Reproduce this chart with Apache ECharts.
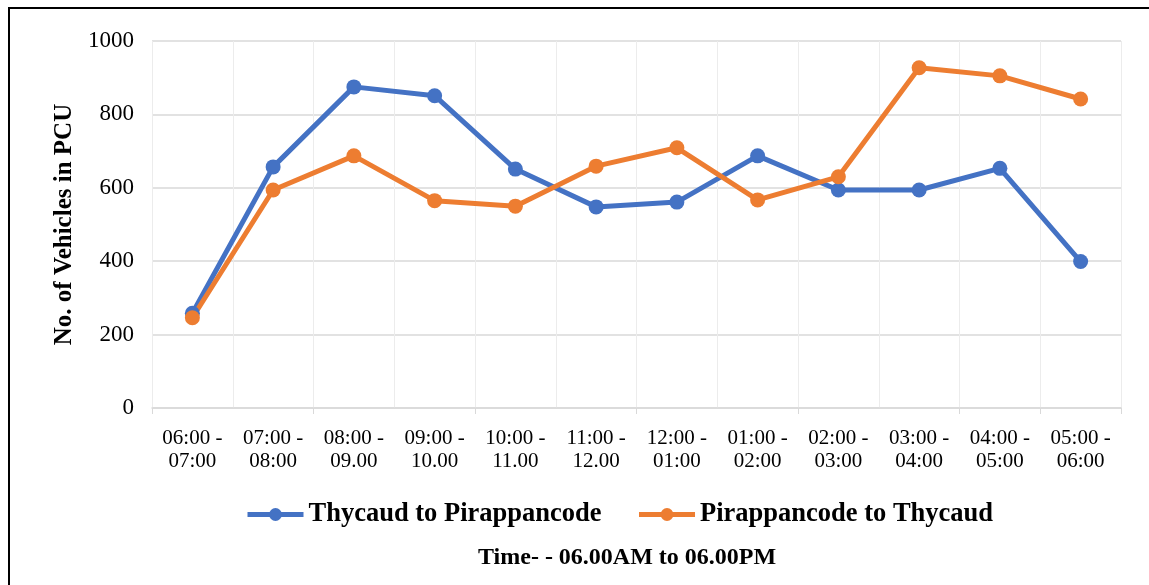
<!DOCTYPE html>
<html>
<head>
<meta charset="utf-8">
<script src="https://cdn.jsdelivr.net/npm/echarts@6/dist/echarts.min.js"></script>
<style>
html,body{margin:0;padding:0;background:#fff;}
#c{width:1149px;height:585px;}
</style>
</head>
<body>
<div id="c"></div>
<script>
const categories = ['06:00 -\n07:00','07:00 -\n08:00','08:00 -\n09.00','09:00 -\n10.00','10:00 -\n11.00','11:00 -\n12.00','12:00 -\n01:00','01:00 -\n02:00','02:00 -\n03:00','03:00 -\n04:00','04:00 -\n05:00','05:00 -\n06:00'];
const seriesNames = ['Thycaud to Pirappancode','Pirappancode to Thycaud'];
const thycaudToPirappancode = [258, 657, 875, 851, 651, 548, 561, 687, 594, 594, 653, 399];
const pirappancodeToThycaud = [246, 594, 687, 565, 550, 659, 709, 567, 630, 927, 905, 842];
const yTicks = [0, 200, 400, 600, 800, 1000];

const font = '"Liberation Serif", "Times New Roman", serif';
const chart = echarts.init(document.getElementById('c'));
chart.setOption({
  animation: false,
  backgroundColor: '#fff',
  graphic: [{
    type: 'rect', z: 100, silent: true,
    shape: {x: 9, y: 8, width: 1300, height: 800},
    style: {fill: 'none', stroke: '#000', lineWidth: 2}
  }, {
    type: 'text', left: 478, top: 546,
    style: {text: 'Time- - 06.00AM to 06.00PM', font: 'bold 24px ' + font, fill: '#000'}
  }],
  grid: {left: 152, right: 28, top: 41, bottom: 177},
  legend: {
    data: seriesNames,
    top: 496, left: 240,
    itemWidth: 56, itemHeight: 16, itemGap: 35,
    lineStyle: {width: 5},
    textStyle: {fontFamily: font, fontWeight: 'bold', fontSize: 26.5, color: '#000'}
  },
  xAxis: {
    type: 'category',
    data: categories,
    boundaryGap: true,
    axisLine: {lineStyle: {color: '#d9d9d9', width: 1.5}},
    axisTick: {show: true, interval: 1, length: 6, lineStyle: {color: '#d9d9d9'}},
    splitLine: {show: true, interval: 0, lineStyle: {color: '#ececec', width: 1}},
    axisLabel: {interval: 0, fontFamily: font, fontSize: 21, color: '#000', lineHeight: 23, margin: 19}
  },
  yAxis: {
    type: 'value', min: yTicks[0], max: yTicks[yTicks.length - 1], interval: 200,
    name: 'No. of Vehicles in PCU', nameLocation: 'middle', nameGap: 73,
    nameTextStyle: {fontFamily: font, fontWeight: 'bold', fontSize: 25, color: '#000'},
    axisLine: {show: false}, axisTick: {show: false},
    splitLine: {lineStyle: {color: '#d9d9d9', width: 1.5}},
    axisLabel: {fontFamily: font, fontSize: 23, color: '#000', margin: 18, formatter: v => String(v)}
  },
  series: [{
    name: seriesNames[0], type: 'line', data: thycaudToPirappancode,
    symbol: 'circle', symbolSize: 15,
    lineStyle: {color: '#4472C4', width: 5},
    itemStyle: {color: '#4472C4'}
  }, {
    name: seriesNames[1], type: 'line', data: pirappancodeToThycaud,
    symbol: 'circle', symbolSize: 15,
    lineStyle: {color: '#ED7D31', width: 5},
    itemStyle: {color: '#ED7D31'}
  }]
});
</script>
</body>
</html>
